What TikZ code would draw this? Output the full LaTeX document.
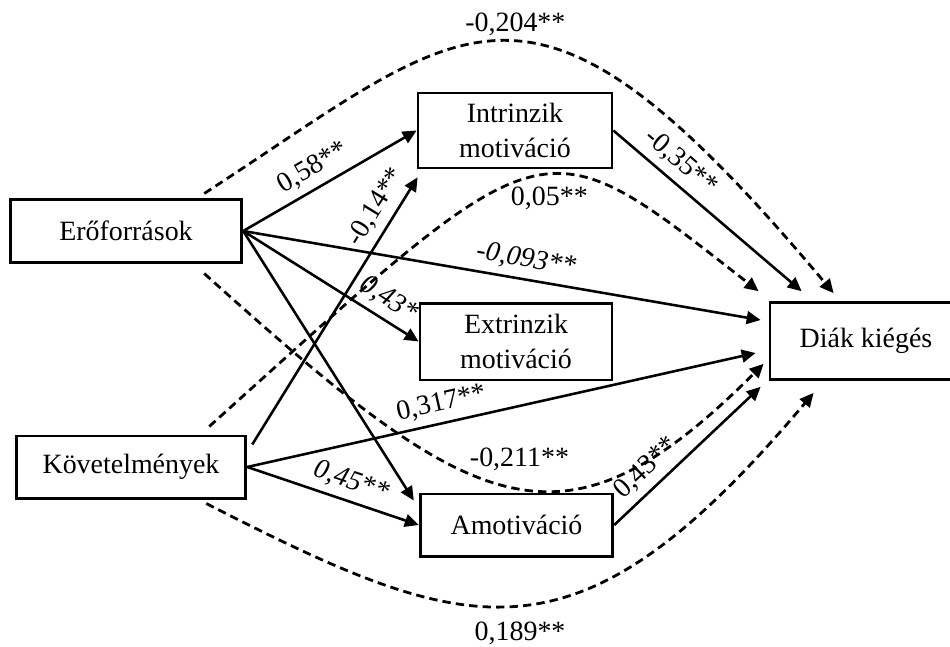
\documentclass[tikz,border=0pt]{standalone}
\usepackage{fontspec}
\setmainfont{Liberation Serif}
\usepackage{tikz}
\usetikzlibrary{arrows.meta,calc}

\begin{document}
\begin{tikzpicture}[x=0.0151cm, y=-0.0151cm,
  font=\fontsize{12pt}{15pt}\selectfont,
  box/.style={draw, line width=1.2pt, inner sep=0pt, align=center},
  arr/.style={line width=1.1pt, -{Triangle[length=6pt,width=5.5pt]}},
  dasharr/.style={arr, line width=1.2pt, dash pattern=on 3.6pt off 2.2pt},
  coef/.style={inner sep=3pt, sloped, above},
  coefit/.style={coef, font=\fontsize{12pt}{15pt}\selectfont\itshape},
  dcoef/.style={inner sep=2pt}]
  \useasboundingbox (0,0) rectangle (950,646);

  % boxes
  \node[box, minimum width=3.50cm, minimum height=0.94cm] (ero) at (126,231) {Erőforrások};
  \node[box, minimum width=3.47cm, minimum height=0.94cm] (kov) at (131,467) {Követelmények};
  \node[box, minimum width=2.93cm, minimum height=1.13cm] (int) at (515,130.5) {Intrinzik\\motiváció};
  \node[box, minimum width=2.90cm, minimum height=1.16cm] (ext) at (516,341.5) {Extrinzik\\motiváció};
  \node[box, minimum width=2.91cm, minimum height=0.94cm] (amo) at (516.5,525) {Amotiváció};
  \node[box, minimum width=2.90cm, minimum height=1.16cm] (dk) at (866,341) {Diák kiégés};

  % direct paths
  \draw[arr] (ero.east) -- node[coef, pos=0.46] {0,58**} (int.west);
  \draw[arr] ($(kov.north east)+(5,10)$) -- node[coef, pos=0.85] {-0,14**} ($(int.south west)+(1,8)$);
  \draw[arr] (ero.east) -- node[coefit, pos=0.54] {-0,093**} ($(dk.west)+(-8,-21)$);
  \draw[arr] (ero.east) -- node[coefit, pos=0.77] {0,43*} (ext.west);
  \draw[arr] (ero.east) -- ($(amo.north west)+(-5,8)$);
  \draw[arr] (kov.east) -- node[coef, pos=0.39] {0,317**} ($(dk.west)+(-13,12)$);
  \draw[arr] (kov.east) -- node[coefit, pos=0.57] {0,45**} (amo.west);
  \draw[arr] (int.east) -- node[coef, pos=0.29] {-0,35**} ($(dk.north west)+(33,-10)$);
  \draw[arr] (amo.east) -- node[coef, pos=0.31] {0,43**} ($(dk.south west)+(-8,6)$);

  % indirect paths
  \draw[dasharr] ($(ero.north east)+(-39,-5)$) .. controls +(268,-174) and +(-305,-364) ..
    node[dcoef, pos=0.52, above] {-0,204**} ($(dk.north west)+(65,-8)$);
  \draw[dasharr] ($(kov.north east)+(-38,-8)$) .. controls +(343,-309) and +(-221,-172) ..
    node[dcoef, pos=0.55, below=2.5pt] {0,05**} ($(dk.north west)+(-10,-10)$);
  \draw[dasharr] ($(ero.south east)+(-39,10)$) .. controls +(271,244) and +(-202,202) ..
    node[dcoef, pos=0.52, above=4.5pt] {-0,211**} ($(dk.south west)+(-5,-17)$);
  \draw[dasharr] ($(kov.south east)+(-41,4)$) .. controls +(265,135) and +(-238,283) ..
    node[dcoef, pos=0.5, below=4.5pt] {0,189**} ($(dk.south west)+(45,12)$);
\end{tikzpicture}
\end{document}
